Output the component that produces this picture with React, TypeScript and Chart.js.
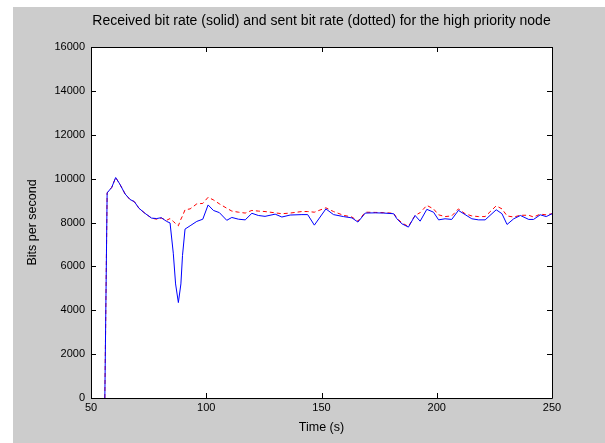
import React, { useEffect, useRef } from "react";
import { Chart, registerables } from "chart.js";

Chart.register(...registerables);

const titleText = "Received bit rate (solid) and sent bit rate (dotted) for the high priority node";
const xTitle = "Time (s)";
const yTitle = "Bits per second";

const timeSeconds = [
  56.0, 57.0, 59.0, 60.7, 62.5, 64.8, 66.9, 68.8, 70.8, 73.4, 76.3, 78.5, 80.5, 82.8, 84.3,
  85.7, 86.7, 87.9, 89.0, 89.7, 90.8, 93.0, 95.9, 98.5, 100.8, 103.1, 105.7, 108.9, 111.1,
  114.0, 116.9, 119.8, 122.6, 125.5, 129.9, 132.8, 136.4, 141.5, 144.0, 146.9, 151.9, 155.2,
  159.5, 163.2, 165.8, 169.0, 173.3, 177.0, 181.3, 182.7, 184.9, 187.7, 190.6, 192.8, 195.7,
  198.6, 200.8, 203.6, 206.5, 209.4, 212.3, 215.2, 218.1, 221.0, 225.8, 228.3, 230.5, 233.4,
  236.3, 239.9, 242.0, 244.9, 247.5, 250.0,
];

const receivedBps = [
  0, 9350, 9600, 10050, 9750, 9300, 9050, 8950, 8650, 8420, 8200, 8180, 8220, 8050, 7980,
  6600, 5200, 4350, 5200, 6500, 7700, 7850, 8050, 8150, 8800, 8550, 8450, 8100, 8230,
  8150, 8120, 8420, 8320, 8280, 8380, 8250, 8340, 8360, 8360, 7880, 8620, 8360,
  8270, 8210, 8020, 8430, 8440, 8430, 8400, 8170, 7940, 7790, 8320, 8060, 8600,
  8470, 8120, 8170, 8140, 8550, 8360, 8170, 8120, 8120, 8580, 8400, 7910, 8170,
  8320, 8140, 8140, 8350, 8270, 8400,
];

const sentBps = [
  0, 9350, 9600, 10050, 9750, 9300, 9050, 8950, 8650, 8420, 8200, 8150, 8200, 8100, 8180,
  8050, 7950, 7850, 8150, 8300, 8580, 8620, 8850, 8870, 9150, 9030, 8850, 8650, 8520,
  8470, 8430, 8550, 8520, 8500, 8440, 8400, 8430, 8500, 8500, 8470, 8670, 8500,
  8330, 8250, 8060, 8470, 8460, 8450, 8420, 8200, 7980, 7820, 8320, 8450, 8780,
  8620, 8350, 8270, 8300, 8620, 8400, 8300, 8270, 8270, 8760, 8620, 8300, 8250,
  8330, 8330, 8250, 8380, 8350, 8400,
];

const xTicks = [50, 100, 150, 200, 250];
const yTicks = [0, 2000, 4000, 6000, 8000, 10000, 12000, 14000, 16000];

const FONT_FAMILY = '"Liberation Sans", Arial, Helvetica, sans-serif';

const framePlugin = {
  id: "matlabFrame",
  beforeDatasetsDraw(chart: any) {
    const { ctx, chartArea } = chart;
    ctx.save();
    ctx.fillStyle = "#ffffff";
    ctx.fillRect(chartArea.left, chartArea.top, chartArea.right - chartArea.left, chartArea.bottom - chartArea.top);
    ctx.restore();
  },
  afterDraw(chart: any) {
    const { ctx, chartArea } = chart;
    const { left, right, top, bottom } = chartArea;
    const xs = chart.scales.x;
    const ys = chart.scales.y;
    ctx.save();
    ctx.strokeStyle = "#000000";
    ctx.lineWidth = 1;
    ctx.beginPath();
    ctx.rect(Math.round(left) + 0.5, Math.round(top) + 0.5, Math.round(right - left), Math.round(bottom - top));
    ctx.stroke();
    const tl = 5;
    ctx.beginPath();
    xTicks.forEach((v) => {
      const px = Math.round(xs.getPixelForValue(v)) + 0.5;
      ctx.moveTo(px, bottom);
      ctx.lineTo(px, bottom - tl);
      ctx.moveTo(px, top);
      ctx.lineTo(px, top + tl);
    });
    yTicks.forEach((v) => {
      const py = Math.round(ys.getPixelForValue(v)) + 0.5;
      ctx.moveTo(left, py);
      ctx.lineTo(left + tl, py);
      ctx.moveTo(right, py);
      ctx.lineTo(right - tl, py);
    });
    ctx.stroke();
    ctx.fillStyle = "#000000";
    ctx.font = "14px " + FONT_FAMILY;
    ctx.textAlign = "center";
    ctx.textBaseline = "middle";
    ctx.fillText(titleText, (left + right) / 2, 21);
    ctx.restore();
  },
};

export default function App() {
  const canvasRef = useRef<HTMLCanvasElement | null>(null);

  useEffect(() => {
    if (!canvasRef.current) return;
    const tickFont = { family: FONT_FAMILY, size: 11 };
    const titleFont = { family: FONT_FAMILY, size: 12.5 };
    const chart = new Chart(canvasRef.current, {
      type: "line",
      data: {
        datasets: [
          {
            label: "Received",
            data: timeSeconds.map((t, i) => ({ x: t, y: receivedBps[i] })),
            borderColor: "#0000ff",
            borderWidth: 1,
            pointRadius: 0,
            tension: 0,
            fill: false,
          },
          {
            label: "Sent",
            data: timeSeconds.map((t, i) => ({ x: t, y: sentBps[i] })),
            borderColor: "#ff0000",
            borderWidth: 1,
            borderDash: [4, 3],
            pointRadius: 0,
            tension: 0,
            fill: false,
          },
        ],
      },
      options: {
        responsive: false,
        animation: false,
        devicePixelRatio: 1,
        layout: { padding: { left: 0, right: 53, top: 47, bottom: 0 } },
        plugins: {
          legend: { display: false },
          tooltip: { enabled: false },
          title: { display: false },
        },
        scales: {
          x: {
            type: "linear",
            min: 50,
            max: 250,
            afterFit: (s: any) => {
              s.height = 45;
            },
            afterBuildTicks: (s: any) => {
              s.ticks = xTicks.map((v) => ({ value: v }));
            },
            ticks: {
              color: "#000000",
              font: tickFont,
              padding: 3,
              maxRotation: 0,
              autoSkip: false,
              callback: (v: any) => String(v),
            },
            grid: { display: false, drawTicks: false },
            border: { display: false },
            title: {
              display: true,
              text: xTitle,
              color: "#000000",
              font: titleFont,
              padding: { top: 0, bottom: 8 },
            },
          },
          y: {
            type: "linear",
            min: 0,
            max: 16000,
            afterFit: (s: any) => {
              s.width = 91;
            },
            afterBuildTicks: (s: any) => {
              s.ticks = yTicks.map((v) => ({ value: v }));
            },
            ticks: {
              color: "#000000",
              font: tickFont,
              padding: 6,
              autoSkip: false,
              callback: (v: any) => String(v),
            },
            grid: { display: false, drawTicks: false },
            border: { display: false },
            title: {
              display: true,
              text: yTitle,
              color: "#000000",
              font: titleFont,
              padding: { top: 25, bottom: 0 },
            },
          },
        },
      },
      plugins: [framePlugin],
    });
    return () => chart.destroy();
  }, []);

  return (
    <div style={{ position: "fixed", left: 0, top: 0, width: 605, height: 443, background: "#ffffff" }}>
      <div style={{ position: "absolute", left: 13, top: 7, right: 0, bottom: 0, background: "#cccccc" }} />
      <canvas ref={canvasRef} width={605} height={443} style={{ position: "absolute", left: 0, top: 0 }} />
    </div>
  );
}
